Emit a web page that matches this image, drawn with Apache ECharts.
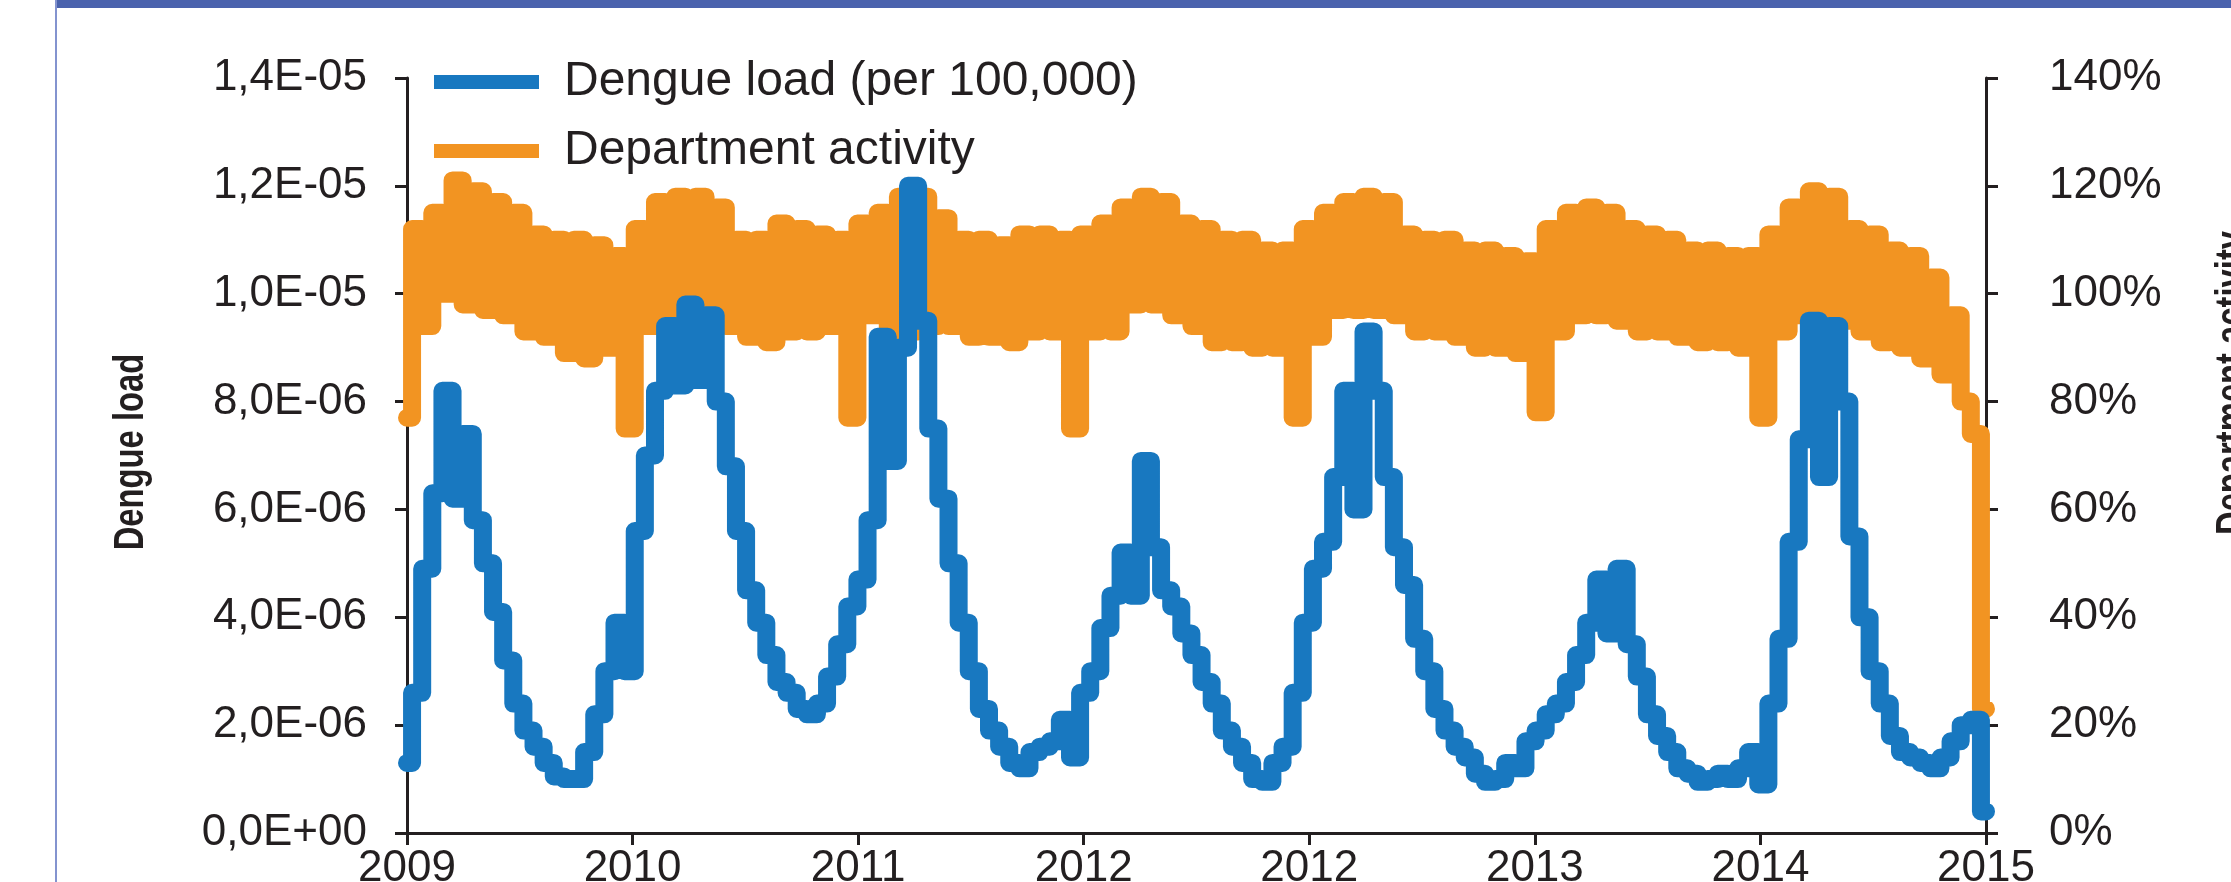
<!DOCTYPE html>
<html>
<head>
<meta charset="utf-8">
<title>Dengue load vs department activity</title>
<script src="https://cdn.jsdelivr.net/npm/echarts@6/dist/echarts.min.js"></script>
<style>
  body { margin: 0; background: #fff; }
  #chart { width: 2231px; height: 882px; }
</style>
</head>
<body>
<div id="chart"></div>
<script>
// dengue load, in units of 1E-06 (per 100,000), one value per sample
const dengue = [
  1.3, 2.6, 4.9, 6.3, 8.2, 6.2, 7.4, 5.8, 5.0, 4.1,
  3.2, 2.4, 1.9, 1.6, 1.3, 1.05, 1.0, 1.0, 1.5, 2.2,
  3.0, 3.9, 3.0, 5.6, 7.0, 8.2, 9.4, 8.3, 9.8, 8.4,
  9.6, 8.0, 6.8, 5.6, 4.5, 3.9, 3.3, 2.8, 2.6, 2.3,
  2.2, 2.4, 2.9, 3.5, 4.2, 4.7, 5.8, 9.2, 6.9, 9.0,
  12.0, 9.5, 7.5, 6.2, 5.0, 3.9, 3.0, 2.3, 1.9, 1.6,
  1.3, 1.2, 1.5, 1.6, 1.7, 2.1, 1.4, 2.6, 3.0, 3.8,
  4.4, 5.2, 4.4, 6.9, 5.3, 4.5, 4.2, 3.7, 3.3, 2.8,
  2.4, 1.9, 1.6, 1.3, 1.0, 0.95, 1.3, 1.6, 2.6, 3.9,
  4.9, 5.4, 6.6, 8.2, 6.0, 9.3, 8.2, 6.6, 5.3, 4.6,
  3.6, 3.0, 2.3, 1.9, 1.6, 1.4, 1.1, 0.95, 1.0, 1.3,
  1.2, 1.7, 1.9, 2.2, 2.4, 2.8, 3.3, 3.9, 4.7, 3.7,
  4.9, 3.5, 2.9, 2.2, 1.8, 1.5, 1.2, 1.1, 0.95, 1.0,
  1.1, 1.0, 1.2, 1.5, 0.9, 2.4, 3.6, 5.4, 7.3, 9.5,
  6.6, 9.4, 8.0, 5.5, 4.0, 3.0, 2.4, 1.8, 1.5, 1.4,
  1.3, 1.2, 1.4, 1.7, 2.0, 2.1, 0.4
];
// department activity in %, same samples
const activity = [
  77, 112, 94, 115, 100, 121, 98, 119, 97, 117,
  96, 115, 93, 111, 92, 110, 89, 110, 88, 109,
  90, 107, 75, 112, 94, 117, 93, 118, 93, 118,
  94, 116, 94, 110, 92, 110, 91, 113, 93, 112,
  93, 111, 94, 110, 77, 113, 96, 115, 91, 118,
  93, 118, 94, 114, 94, 110, 92, 110, 92, 109,
  91, 111, 93, 111, 93, 110, 75, 111, 93, 113,
  93, 116, 98, 118, 98, 117, 96, 113, 94, 112,
  91, 110, 91, 110, 90, 108, 90, 108, 77, 112,
  92, 115, 97, 117, 97, 118, 97, 117, 96, 111,
  93, 110, 93, 110, 92, 108, 90, 108, 90, 107,
  89, 106, 78, 112, 93, 115, 96, 116, 96, 115,
  95, 112, 93, 111, 93, 110, 92, 108, 91, 108,
  91, 107, 90, 107, 77, 111, 93, 116, 96, 119,
  96, 118, 95, 112, 93, 111, 91, 108, 90, 107,
  88, 103, 85, 96, 80, 74, 23
];
const yearLabels = ['2009', '2010', '2011', '2012', '2012', '2013', '2014', '2015'];
const loadLabels = ['0,0E+00', '2,0E-06', '4,0E-06', '6,0E-06', '8,0E-06', '1,0E-05', '1,2E-05', '1,4E-05'];
const activityLabels = ['0%', '20%', '40%', '60%', '80%', '100%', '120%', '140%'];

const font = 'Liberation Sans, Arial, sans-serif';
const ink = '#231f20';
const xStep = (dengue.length - 1) / 7;

let chart = echarts.init(document.getElementById('chart'));

let axisCommon = {
  axisLine: { show: true, lineStyle: { color: ink, width: 3 } },
  axisTick: { show: true, inside: false, length: 12, lineStyle: { color: ink, width: 3 } },
  splitLine: { show: false }
};

let option = {
  animation: false,
  backgroundColor: '#fff',
  grid: { left: 407, right: 245, top: 78, bottom: 49, containLabel: false, outerBoundsMode: 'none' },
  legend: {
    orient: 'vertical',
    left: 429,
    top: 53,
    icon: 'rect',
    itemWidth: 105,
    itemHeight: 14,
    itemGap: 21,
    data: ['Dengue load (per 100,000)', 'Department activity'],
    textStyle: { fontSize: 48, lineHeight: 48, color: ink, fontFamily: font, padding: [0, 0, 0, 20] }
  },
  xAxis: Object.assign({
    type: 'value',
    min: 0,
    max: dengue.length - 1,
    interval: xStep,
    axisLabel: {
      fontSize: 44, color: ink, fontFamily: font, margin: 14,
      formatter: v => yearLabels[Math.round(v / xStep)]
    }
  }, axisCommon),
  yAxis: [
    Object.assign({
      type: 'value',
      position: 'left',
      min: 0, max: 14, interval: 2,
      axisLabel: {
        fontSize: 44, color: ink, fontFamily: font, margin: 40,
        formatter: v => loadLabels[Math.round(v / 2)]
      }
    }, axisCommon),
    Object.assign({
      type: 'value',
      position: 'right',
      min: 0, max: 140, interval: 20,
      axisLabel: {
        fontSize: 44, color: ink, fontFamily: font, margin: 63, align: 'left',
        formatter: v => activityLabels[Math.round(v / 20)]
      }
    }, axisCommon)
  ],
  graphic: [
    { type: 'rect', left: 56, top: 0, shape: { width: 2231, height: 8 }, style: { fill: '#4a62ad' } },
    { type: 'rect', left: 55, top: 0, shape: { width: 2, height: 882 }, style: { fill: '#8393cf' } },
    // axis titles are a condensed bold face in the original, so squeeze along the text
    {
      type: 'text', x: 131, y: 452, rotation: Math.PI / 2, scaleX: 0.78,
      style: { text: 'Dengue load', font: 'bold 42px ' + font, fill: ink, align: 'center', verticalAlign: 'middle' }
    },
    {
      type: 'text', x: 2233, y: 383, rotation: Math.PI / 2, scaleX: 0.78,
      style: { text: 'Department activity', font: 'bold 42px ' + font, fill: ink, align: 'center', verticalAlign: 'middle' }
    }
  ],
  series: [
    {
      name: 'Department activity',
      type: 'line',
      yAxisIndex: 1,
      step: 'middle',
      showSymbol: false,
      color: '#f29422',
      lineStyle: { width: 18, color: '#f29422', cap: 'round', join: 'round' },
      data: activity.map((v, i) => [i, v])
    },
    {
      name: 'Dengue load (per 100,000)',
      type: 'line',
      yAxisIndex: 0,
      step: 'middle',
      showSymbol: false,
      color: '#1878c0',
      lineStyle: { width: 18, color: '#1878c0', cap: 'round', join: 'round' },
      data: dengue.map((v, i) => [i, v])
    }
  ]
};

chart.setOption(option);
</script>
</body>
</html>
